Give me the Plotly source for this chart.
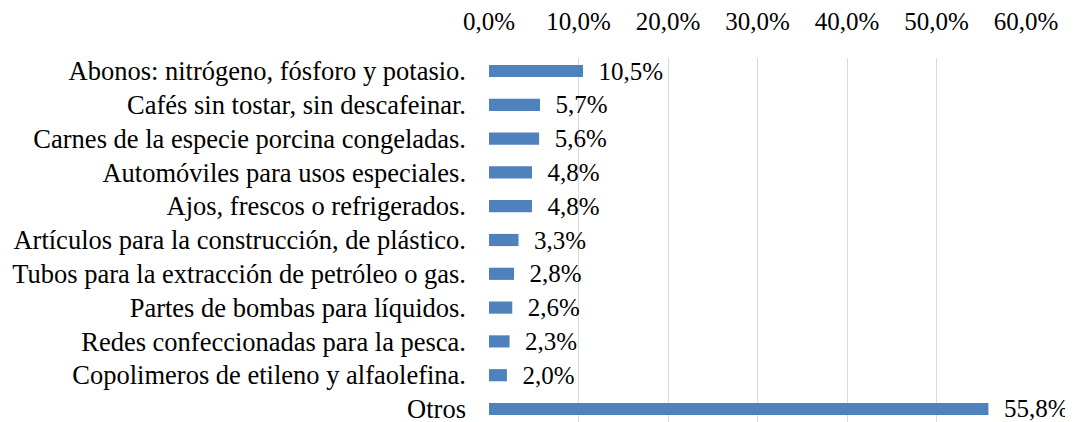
import plotly.graph_objects as go

categories = [
    "Abonos: nitrógeno, fósforo y potasio.",
    "Cafés sin tostar, sin descafeinar.",
    "Carnes de la especie porcina congeladas.",
    "Automóviles para usos especiales.",
    "Ajos, frescos o refrigerados.",
    "Artículos para la construcción, de plástico.",
    "Tubos para la extracción de petróleo o gas.",
    "Partes de bombas para líquidos.",
    "Redes confeccionadas para la pesca.",
    "Copolimeros de etileno y alfaolefina.",
    "Otros",
]
values = [10.5, 5.7, 5.6, 4.8, 4.8, 3.3, 2.8, 2.6, 2.3, 2.0, 55.8]
x_ticks = [0, 10, 20, 30, 40, 50, 60]
x_tick_labels = ["0,0%", "10,0%", "20,0%", "30,0%", "40,0%", "50,0%", "60,0%"]

labels = ["  " + f"{v:.1f}".replace(".", ",") + "%" for v in values]
FONT = "Liberation Serif, Times New Roman, serif"

fig = go.Figure(go.Bar(
    y=categories, x=values, orientation="h",
    marker=dict(color="#4F81BD", line=dict(width=0)),
    text=labels, textposition="outside", cliponaxis=False,
    constraintext="none",
    textfont=dict(family=FONT, size=25, color="#000000"),
    outsidetextfont=dict(family=FONT, size=25, color="#000000"),
    width=0.36,
))

fig.update_layout(
    width=1073, height=422,
    margin=dict(l=481, r=55, t=50, b=8, autoexpand=False),
    paper_bgcolor="white", plot_bgcolor="white",
    showlegend=False,
    font=dict(family=FONT, size=25, color="#000000"),
)
fig.update_xaxes(
    side="top", range=[0, 60], tickvals=x_ticks, ticktext=x_tick_labels,
    showgrid=True, gridcolor="#D9D9D9", gridwidth=1,
    zeroline=False, showline=False, ticks="", ticklabelstandoff=22,
    tickfont=dict(family=FONT, size=25), automargin=False,
)
fig.update_yaxes(
    categoryorder="array", categoryarray=categories,
    range=[10.385, -0.385], showgrid=False, zeroline=False, showline=False,
    ticks="", ticklabelstandoff=22, tickfont=dict(family=FONT, size=26.5),
    automargin=False,
)
fig.write_html("out.html")
